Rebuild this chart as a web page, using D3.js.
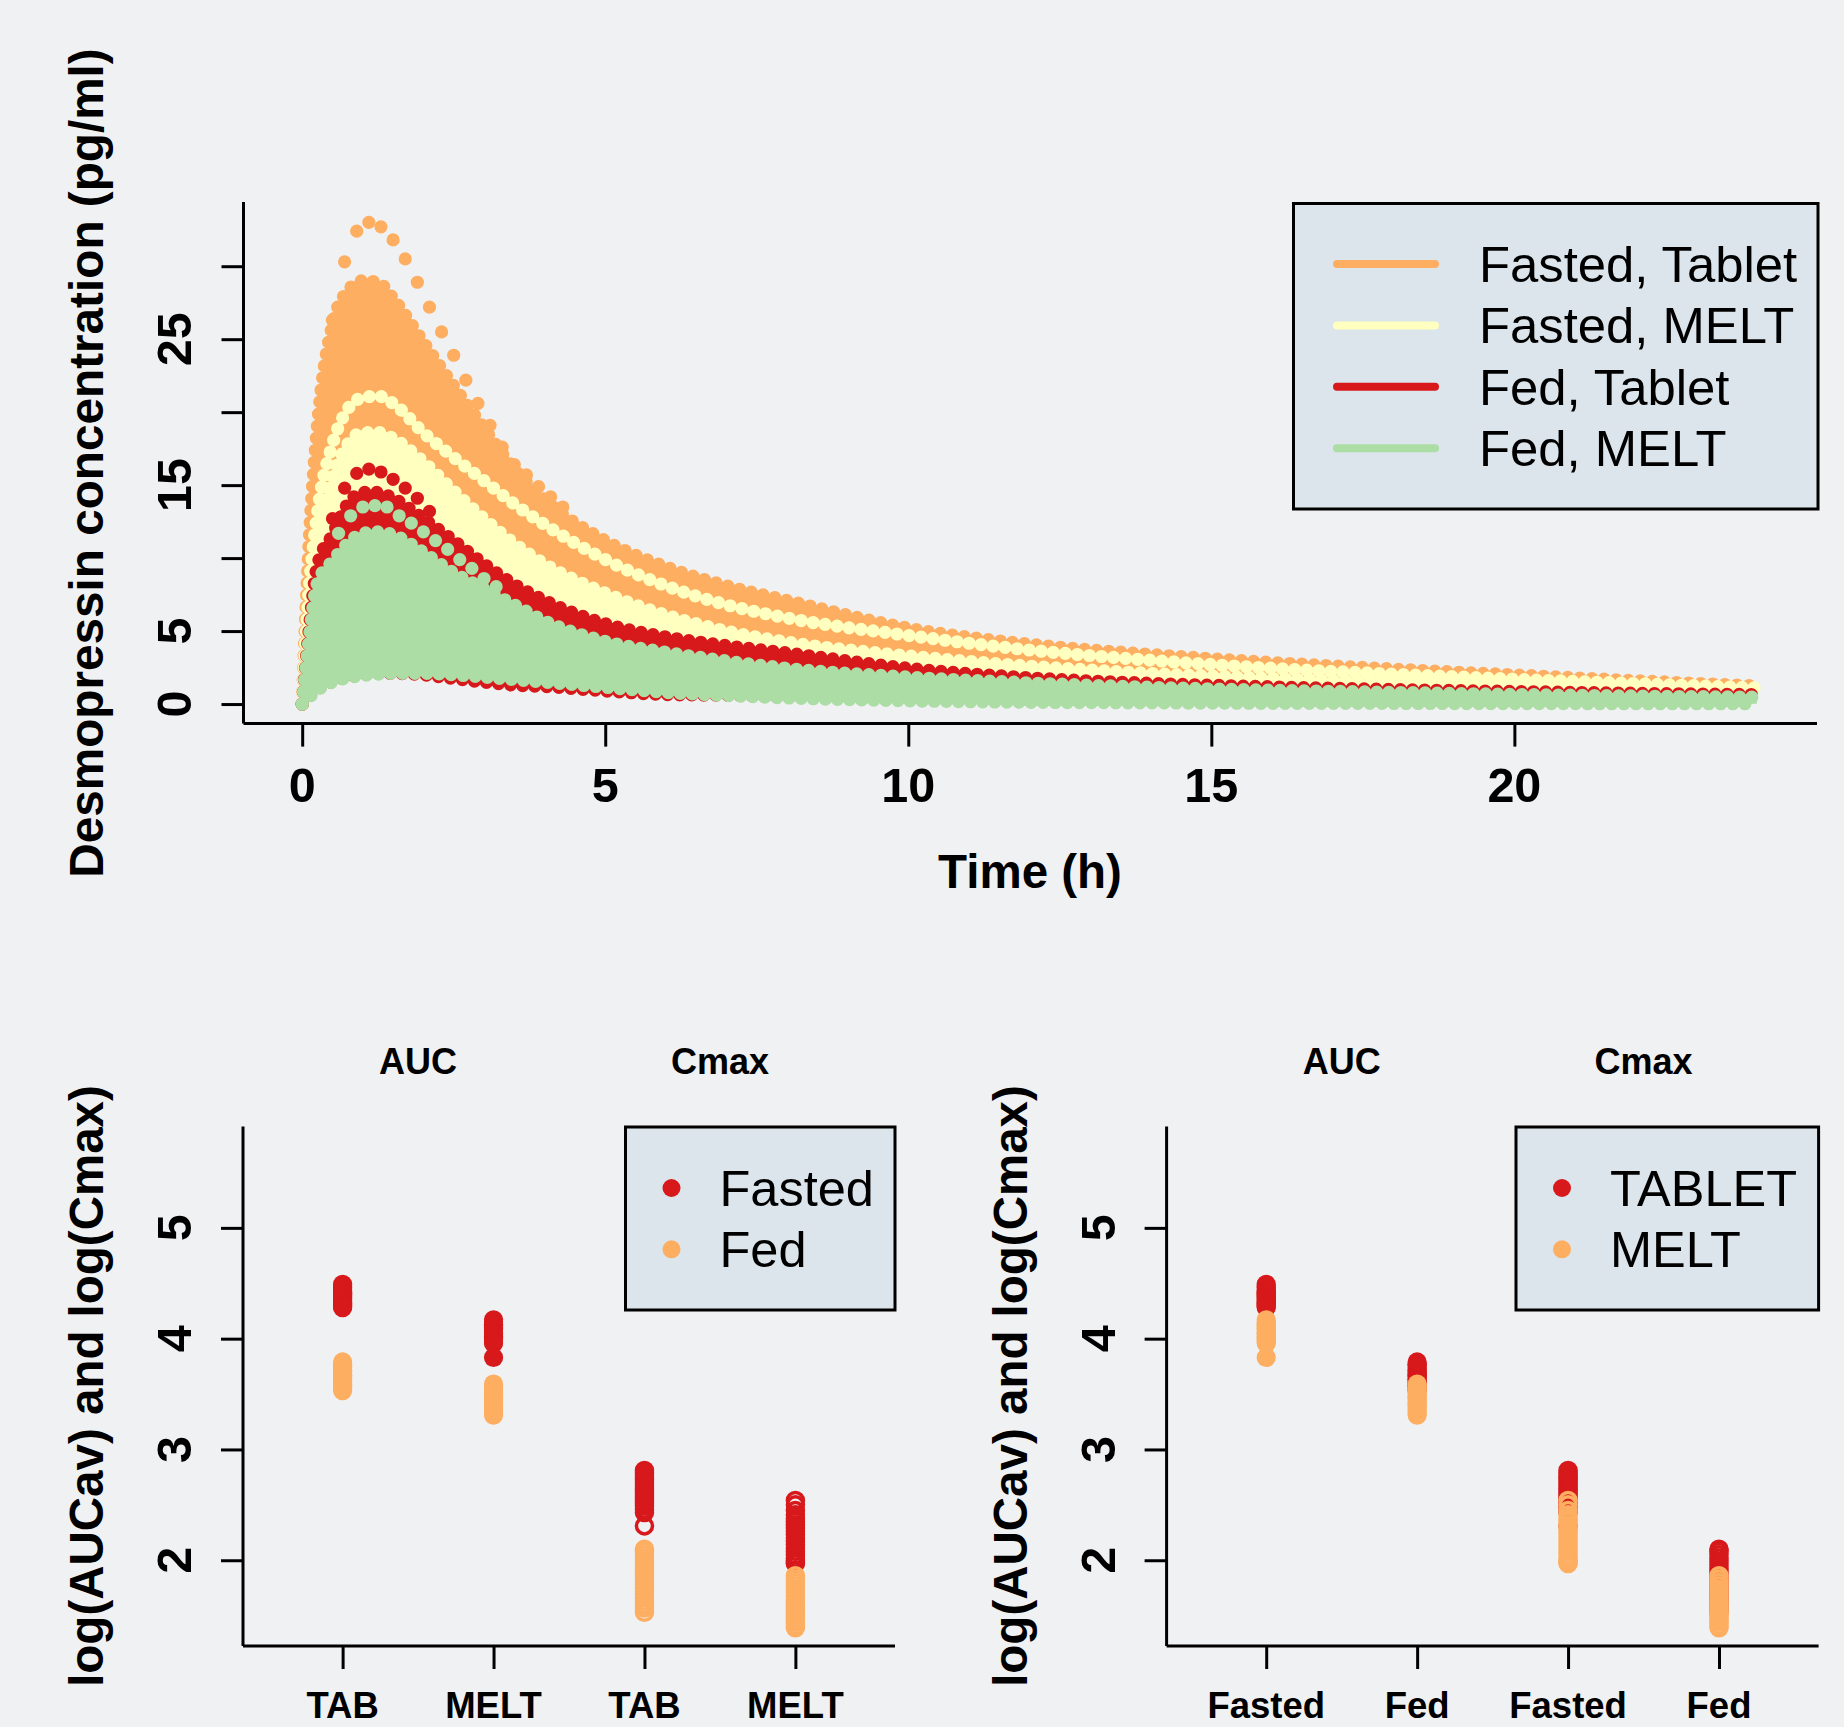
<!DOCTYPE html>
<html lang="en">
<head>
<meta charset="utf-8">
<title>Desmopressin PK simulation</title>
<script src="https://cdn.jsdelivr.net/npm/d3@7"></script>
<style>
    body { margin: 0; background: #f0f1f3; }
    svg { display: block; font-family: "Liberation Sans", Arial, Helvetica, sans-serif; }
    .axis line, .axisline { stroke: #000; stroke-width: 3; }
    .axis path { display: none; }
    .bold { font-weight: bold; }
    .beads { fill: none; stroke-linecap: round; stroke-width: 13.2; stroke-dasharray: 0 12.1; }
</style>
</head>
<body>
<svg id="chart" width="1844" height="1727"></svg>
<script>
// ---------- top panel: simulated concentration-time profiles ----------
var times        = [0, 0.1, 0.25, 0.5, 0.75, 1, 1.25, 1.5, 2, 2.5, 3, 3.5, 4, 5, 6, 7, 8, 10, 12, 14, 16, 18, 20, 22, 24];

var fastedTabHi  = [0, 10, 19, 26, 28.3, 29.0, 28.9, 27.8, 24.8, 21.8, 18.9, 16.1, 14.0, 11.2, 9.4, 8.1, 7.1, 5.2, 4.1, 3.4, 2.85, 2.4, 2.0, 1.6, 1.25];
var fastedTabLo  = [0, 2, 6, 10, 12, 13, 13, 12.7, 11.6, 10.3, 9.1, 8.0, 7.1, 5.6, 4.5, 3.7, 3.1, 2.3, 1.8, 1.45, 1.2, 1.0, 0.85, 0.72, 0.6];
var fastedTabPeakT = [0.5, 0.7, 0.9, 1.1, 1.3, 1.5, 1.7, 1.9, 2.1, 2.3, 2.5, 2.7, 2.9, 3.1, 3.3, 3.5, 3.7, 3.9, 4.1, 4.3];
var fastedTabPeakV = [26.3, 30.3, 32.4, 33.0, 32.7, 31.8, 30.5, 28.9, 27.2, 25.5, 23.9, 22.2, 20.6, 19.1, 17.6, 16.4, 15.7, 14.9, 14.2, 13.5];

var fastedMeltRow = [0, 7, 13, 17.8, 20.2, 21.0, 21.1, 20.6, 18.6, 16.9, 15.3, 13.7, 12.3, 9.9, 8.1, 6.8, 5.9, 4.7, 3.7, 3.0, 2.45, 2.05, 1.7, 1.4, 1.1];
var fastedMeltHi  = [0, 5, 11, 15.5, 17.8, 18.6, 18.6, 18.2, 16.6, 14.6, 12.7, 11.0, 9.6, 7.6, 6.1, 5.0, 4.25, 3.3, 2.6, 2.1, 1.75, 1.45, 1.2, 1.0, 0.88];
var fastedMeltLo  = [0, 1, 3, 5, 6, 6.5, 6.5, 6.3, 5.8, 5.2, 4.6, 4.1, 3.6, 2.9, 2.3, 1.85, 1.5, 1.0, 0.7, 0.5, 0.4, 0.3, 0.25, 0.2, 0.15];

var fedTabHi  = [0, 4.5, 9.5, 11.6, 13.7, 14.5, 14.5, 14.1, 12.7, 11.2, 9.6, 8.2, 7.1, 5.5, 4.6, 4.0, 3.5, 2.45, 1.8, 1.42, 1.18, 1.0, 0.86, 0.74, 0.65];
var fedTabLo  = [0, 0.45, 1.0, 1.55, 1.85, 2.0, 2.1, 2.1, 2.0, 1.75, 1.5, 1.3, 1.2, 0.9, 0.65, 0.6, 0.5, 0.35, 0.25, 0.2, 0.18, 0.17, 0.16, 0.16, 0.16];
var fedTabRowT = [0.5, 0.7, 0.9, 1.1, 1.3, 1.5, 1.7, 1.9, 2.1];
var fedTabRowV = [12.7, 14.8, 15.8, 16.1, 15.9, 15.4, 14.8, 14.1, 13.2];

var fedMeltHi  = [0, 4, 8.3, 9.8, 11.0, 11.7, 11.8, 11.6, 10.4, 9.0, 7.9, 6.8, 5.7, 4.3, 3.55, 2.95, 2.45, 1.85, 1.45, 1.15, 0.95, 0.8, 0.66, 0.55, 0.47];
var fedMeltLo  = [0, 0.4, 0.95, 1.5, 1.8, 1.95, 2.05, 2.1, 2.1, 2.0, 1.85, 1.68, 1.5, 1.15, 0.8, 0.58, 0.42, 0.22, 0.12, 0.08, 0.05, 0.04, 0.03, 0.02, 0.02];
var fedMeltRowT = [0.6, 0.8, 1.0, 1.2, 1.4, 1.6, 1.8, 2.0, 2.2, 2.4, 2.6, 2.8, 3.0, 3.2];
var fedMeltRowV = [11.7, 12.9, 13.5, 13.6, 13.5, 12.9, 12.4, 11.8, 11.2, 10.6, 9.9, 9.3, 8.6, 8.04];

var topLegend = ["Fasted, Tablet", "Fasted, MELT", "Fed, Tablet", "Fed, MELT"];
var topColors = ["#fdae61", "#ffffbf", "#d7191c", "#abdda4"];
var xTicksTop = [0, 5, 10, 15, 20];
var yTicksTop = [0, 5, 10, 15, 20, 25, 30];
var yLabelsTop = ["0", "5", "", "15", "", "25", ""];

// ---------- bottom panels: log(AUCav) and log(Cmax) per subject ----------
var aucFastedTab  = [4.49, 4.47, 4.46, 4.44, 4.43, 4.42, 4.41, 4.40, 4.39, 4.38, 4.37, 4.36, 4.35, 4.34, 4.33, 4.32, 4.31, 4.30, 4.29, 4.28];
var aucFastedMelt = [4.17, 4.15, 4.13, 4.12, 4.10, 4.09, 4.08, 4.06, 4.05, 4.04, 4.02, 4.01, 4.00, 3.98, 3.97, 3.96, 3.83];
var aucFedTab     = [3.79, 3.77, 3.76, 3.74, 3.72, 3.71, 3.70, 3.68, 3.67, 3.66, 3.64, 3.63, 3.62, 3.60, 3.58, 3.57, 3.55, 3.53];
var aucFedMelt    = [3.59, 3.57, 3.55, 3.53, 3.51, 3.49, 3.47, 3.46, 3.44, 3.42, 3.41, 3.39, 3.37, 3.35, 3.33, 3.31];
var cmaxFastedTab  = [2.81, 2.79, 2.77, 2.75, 2.73, 2.71, 2.69, 2.67, 2.65, 2.63, 2.61, 2.59, 2.57, 2.55, 2.53, 2.51, 2.49, 2.46, 2.43, 2.31];
var cmaxFastedMelt = [2.54, 2.50, 2.45, 2.41, 2.38, 2.35, 2.32, 2.29, 2.26, 2.23, 2.20, 2.17, 2.14, 2.11, 2.08, 2.05, 2.02, 2.00, 1.98, 1.97];
var cmaxFedTab     = [2.10, 2.08, 2.05, 2.02, 1.99, 1.96, 1.93, 1.90, 1.87, 1.84, 1.81, 1.78, 1.75, 1.72, 1.69, 1.66, 1.63, 1.60, 1.57, 1.53];
var cmaxFedMelt    = [1.86, 1.83, 1.80, 1.77, 1.74, 1.71, 1.68, 1.65, 1.62, 1.60, 1.58, 1.56, 1.54, 1.52, 1.50, 1.48, 1.46, 1.44, 1.41, 1.39];

var formCats = ["TAB", "MELT", "TAB", "MELT"];
var foodCats = ["Fasted", "Fed", "Fasted", "Fed"];
var yTicksBottom = [2, 3, 4, 5];
var pairColors = ["#d7191c", "#fdae61"];

var svg = d3.select("#chart");
svg.append("rect").attr("width", 1844).attr("height", 1727).attr("fill", "#f0f1f3");

// ================= top panel =================
var x = d3.scaleLinear().domain([-0.96, 24.96]).range([244, 1815]);
var y = d3.scaleLinear().domain([-1.34, 34.4]).range([723.6, 202]);

var topG = svg.append("g");
var area = d3.area().curve(d3.curveMonotoneX)
    .x((d, i) => x(times[i])).y0(d => y(d[0])).y1(d => y(d[1]));
var line = d3.line().curve(d3.curveMonotoneX)
    .x((d, i) => x(times[i])).y(d => y(d));

// loKnots: how many knots of the lower edge get the beaded outline (0 = none)
var groups = [
    {color: topColors[0], lo: fastedTabLo, hi: fastedTabHi, rows: [], ptsT: fastedTabPeakT, ptsV: fastedTabPeakV, loKnots: 0},
    {color: topColors[1], lo: fastedMeltLo, hi: fastedMeltHi, rows: [fastedMeltRow], ptsT: [], ptsV: [], loKnots: 0},
    {color: topColors[2], lo: fedTabLo, hi: fedTabHi, rows: [], ptsT: fedTabRowT, ptsV: fedTabRowV, loKnots: 17},
    {color: topColors[3], lo: fedMeltLo, hi: fedMeltHi, rows: [], ptsT: fedMeltRowT, ptsV: fedMeltRowV, loKnots: times.length}
];

groups.forEach(function(g) {
    var band = g.lo.map((v, i) => [v, g.hi[i]]);
    topG.append("path").attr("d", area(band)).attr("fill", g.color);
    topG.append("path").attr("class", "beads").attr("d", line(g.hi)).attr("stroke", g.color);
    if (g.loKnots) topG.append("path").attr("class", "beads").attr("d", line(g.lo.slice(0, g.loKnots))).attr("stroke", g.color);
    g.rows.forEach(function(r) {
        topG.append("path").attr("class", "beads").attr("d", line(r)).attr("stroke", g.color);
    });
    topG.selectAll(null).data(g.ptsT).enter().append("circle")
        .attr("cx", d => x(d)).attr("cy", (d, i) => y(g.ptsV[i])).attr("r", 6.6).attr("fill", g.color);
});

topG.append("g").attr("class", "axis").attr("transform", "translate(0,723.6)")
    .call(d3.axisBottom(x).tickValues(xTicksTop).tickSize(23).tickFormat(""));
topG.append("g").attr("class", "axis").attr("transform", "translate(243.5,0)")
    .call(d3.axisLeft(y).tickValues(yTicksTop).tickSize(22).tickFormat(""));
topG.append("line").attr("class", "axisline").attr("x1", 243.5).attr("x2", 1817).attr("y1", 723.6).attr("y2", 723.6);
topG.append("line").attr("class", "axisline").attr("x1", 243.5).attr("x2", 243.5).attr("y1", 202).attr("y2", 723.6);

topG.selectAll(null).data(xTicksTop).enter().append("text")
    .attr("class", "bold").attr("x", d => x(d)).attr("y", 802)
    .attr("text-anchor", "middle").attr("font-size", 48.5).text(d => d);
topG.selectAll(null).data(yTicksTop).enter().append("text")
    .attr("class", "bold").attr("transform", d => "translate(191," + y(d) + ") rotate(-90)")
    .attr("text-anchor", "middle").attr("font-size", 48.5).text((d, i) => yLabelsTop[i]);
topG.append("text").attr("class", "bold").attr("x", 1030).attr("y", 888)
    .attr("text-anchor", "middle").attr("font-size", 47.5).text("Time (h)");
topG.append("text").attr("class", "bold").attr("transform", "translate(103,463) rotate(-90)")
    .attr("text-anchor", "middle").attr("font-size", 47.7).text("Desmopressin concentration (pg/ml)");

var lg = topG.append("g");
lg.append("rect").attr("x", 1293.5).attr("y", 203.5).attr("width", 524.5).attr("height", 305.5)
    .attr("fill", "#dbe5eb").attr("stroke", "#000").attr("stroke-width", 3);
topLegend.forEach(function(name, i) {
    var cy = 264 + i * 61.4;
    lg.append("line").attr("x1", 1337).attr("x2", 1435).attr("y1", cy).attr("y2", cy)
        .attr("stroke", topColors[i]).attr("stroke-width", 8).attr("stroke-linecap", "round");
    lg.append("text").attr("x", 1479).attr("y", cy + 18).attr("font-size", 50.8).text(name);
});

// ================= bottom panels =================
function drawPanel(x0, cats, cols, legendNames, legendX) {
    var g = svg.append("g");
    var bx = d3.scaleLinear().domain([0.34, 4.66]).range([x0, x0 + 652]);
    var by = d3.scaleLinear().domain([1.226, 5.914]).range([1646, 1126.6]);

    cols.forEach(function(c, ci) {
        var open = ci >= 2;
        [0, 1].forEach(function(k) {
            c[k].forEach(function(v) {
                var pt = g.append("circle").attr("cx", bx(ci + 1)).attr("cy", by(v));
                if (open) pt.attr("r", 8).attr("fill", "none").attr("stroke", pairColors[k]).attr("stroke-width", 3.5);
                else pt.attr("r", 9.6).attr("fill", pairColors[k]);
            });
        });
    });

    g.append("g").attr("class", "axis").attr("transform", "translate(0,1646)")
        .call(d3.axisBottom(bx).tickValues([1, 2, 3, 4]).tickSize(23).tickFormat(""));
    g.append("g").attr("class", "axis").attr("transform", "translate(" + x0 + ",0)")
        .call(d3.axisLeft(by).tickValues(yTicksBottom).tickSize(22).tickFormat(""));
    g.append("line").attr("class", "axisline").attr("x1", x0).attr("x2", x0 + 652).attr("y1", 1646).attr("y2", 1646);
    g.append("line").attr("class", "axisline").attr("x1", x0).attr("x2", x0).attr("y1", 1126.6).attr("y2", 1646);

    g.selectAll(null).data(cats).enter().append("text")
        .attr("class", "bold").attr("x", (d, i) => bx(i + 1)).attr("y", 1718)
        .attr("text-anchor", "middle").attr("font-size", 36.5).text(d => d);
    g.selectAll(null).data(yTicksBottom).enter().append("text")
        .attr("class", "bold").attr("transform", d => "translate(" + (x0 - 52) + "," + by(d) + ") rotate(-90)")
        .attr("text-anchor", "middle").attr("font-size", 48.5).text(d => d);
    g.append("text").attr("class", "bold").attr("transform", "translate(" + (x0 - 140) + ",1386) rotate(-90)")
        .attr("text-anchor", "middle").attr("font-size", 47.5).text("log(AUCav) and log(Cmax)");
    g.append("text").attr("class", "bold").attr("x", bx(1.5)).attr("y", 1074)
        .attr("text-anchor", "middle").attr("font-size", 36).text("AUC");
    g.append("text").attr("class", "bold").attr("x", bx(3.5)).attr("y", 1074)
        .attr("text-anchor", "middle").attr("font-size", 36).text("Cmax");

    g.append("rect").attr("x", legendX).attr("y", 1127).attr("width", x0 + 652 - legendX).attr("height", 183)
        .attr("fill", "#dbe5eb").attr("stroke", "#000").attr("stroke-width", 3);
    legendNames.forEach(function(name, i) {
        var cy = 1188 + i * 61.3;
        g.append("circle").attr("cx", legendX + 46).attr("cy", cy).attr("r", 9).attr("fill", pairColors[i]);
        g.append("text").attr("x", legendX + 94).attr("y", cy + 18).attr("font-size", 50.5).text(name);
    });
}

drawPanel(243, formCats,
    [[aucFastedTab, aucFedTab], [aucFastedMelt, aucFedMelt], [cmaxFastedTab, cmaxFedTab], [cmaxFastedMelt, cmaxFedMelt]],
    ["Fasted", "Fed"], 625.5);
drawPanel(1166.6, foodCats,
    [[aucFastedTab, aucFastedMelt], [aucFedTab, aucFedMelt], [cmaxFastedTab, cmaxFastedMelt], [cmaxFedTab, cmaxFedMelt]],
    ["TABLET", "MELT"], 1516);
</script>
</body>
</html>
